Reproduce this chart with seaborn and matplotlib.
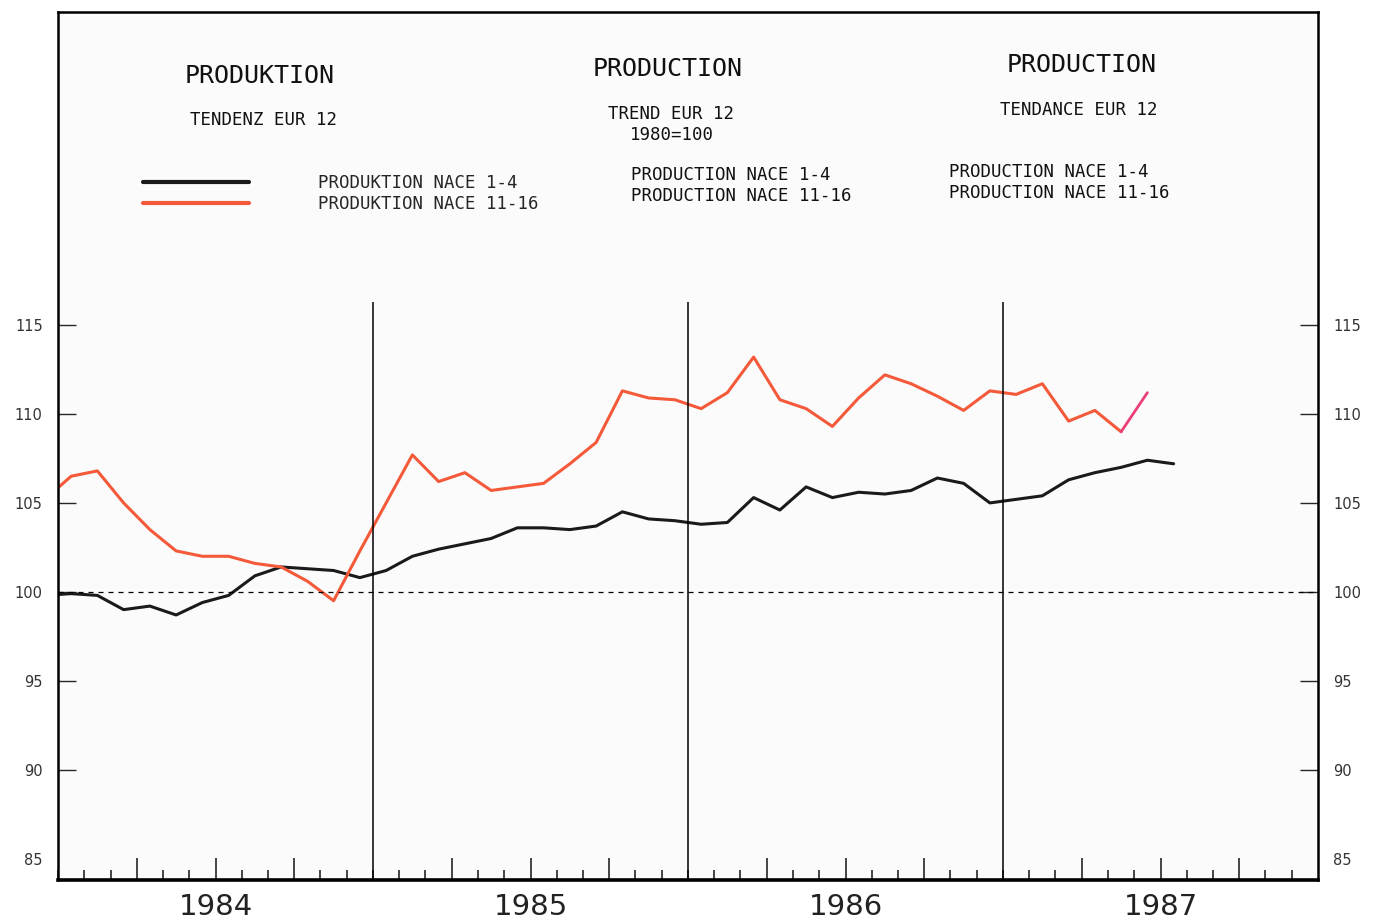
import numpy as np
import pandas as pd
import matplotlib.pyplot as plt
import matplotlib.transforms as mtransforms
import seaborn as sns

# monthly values, Dec 1983 .. Jul 1987 (index 1980 = 100)
months_black = pd.period_range("1983-12", "1987-07", freq="M")
nace_1_4 = [99.8,
            99.9, 99.8, 99.0, 99.2, 98.7, 99.4, 99.8, 100.9, 101.4, 101.3, 101.2, 100.8,
            101.2, 102.0, 102.4, 102.7, 103.0, 103.6, 103.6, 103.5, 103.7, 104.5, 104.1, 104.0,
            103.8, 103.9, 105.3, 104.6, 105.9, 105.3, 105.6, 105.5, 105.7, 106.4, 106.1, 105.0,
            105.2, 105.4, 106.3, 106.7, 107.0, 107.4, 107.2]
months_red = pd.period_range("1983-12", "1987-06", freq="M")
nace_11_16 = [105.2,
              106.5, 106.8, 105.0, 103.5, 102.3, 102.0, 102.0, 101.6, 101.4, 100.6, 99.5, 102.3,
              105.0, 107.7, 106.2, 106.7, 105.7, 105.9, 106.1, 107.2, 108.4, 111.3, 110.9, 110.8,
              110.3, 111.2, 113.2, 110.8, 110.3, 109.3, 110.9, 112.2, 111.7, 111.0, 110.2, 111.3,
              111.1, 111.7, 109.6, 110.2, 109.0, 111.2]
years = [1984, 1985, 1986, 1987]
yticks = [85, 90, 95, 100, 105, 110, 115]
label_black = "PRODUKTION NACE 1-4"
label_red = "PRODUKTION NACE 11-16"


def to_dec(periods):
    return periods.year + (periods.month - 0.5) / 12


df = pd.concat([
    pd.DataFrame({"t": to_dec(months_black), "v": nace_1_4, "serie": label_black}),
    pd.DataFrame({"t": to_dec(months_red[:-1]), "v": nace_11_16[:-1], "serie": label_red}),
])
df_last = pd.DataFrame({"t": to_dec(months_red[-2:]), "v": nace_11_16[-2:]})

sns.set_style("white")
plt.rcParams["font.family"] = ["DejaVu Sans"]

W, H = 1381, 923
fig = plt.figure(figsize=(W / 100, H / 100), dpi=100)
fig.patch.set_facecolor("white")
ax = fig.add_axes([58 / W, 1 - 880 / H, (1318 - 58) / W, (880 - 12) / H])
ax.set_facecolor("#fbfbfb")

red = "#f45a3a"
sns.lineplot(data=df, x="t", y="v", hue="serie",
             palette={label_black: "#1a1a1a", label_red: red},
             linewidth=2.2, ax=ax)
sns.lineplot(data=df_last, x="t", y="v", color="#ec3f78", linewidth=2.0, ax=ax, legend=False)

ax.set_xlim(1984, 1988)
ax.set_ylim(83.8, 132.6)
ax.set_xlabel("")
ax.set_ylabel("")

# reference line and year separators
ax.axhline(100, color="black", lw=0.9, ls=(0, (4, 4)))
ax.vlines(years[1:], 83.8, 116.3, color="black", lw=1.1)

for s in ax.spines.values():
    s.set_color("black")
    s.set_linewidth(1.8)
ax.spines["bottom"].set_linewidth(2.6)

# ticks
ax.set_yticks(yticks)
ax.set_yticklabels([str(v) for v in yticks])
ax.tick_params(axis="y", direction="in", length=13, width=1.0, left=True, right=True,
               labelleft=True, labelright=True, labelsize=10.5, labelcolor="#333333")
ax.tick_params(axis="y", which="major", pad=11)
ax.yaxis.get_major_ticks()[0].tick1line.set_visible(False)
ax.yaxis.get_major_ticks()[0].tick2line.set_visible(False)

month_ticks = np.arange(1984, 1988, 1 / 12)
quarter_ticks = [y + q / 4 for y in years for q in (1, 2, 3)]
ax.set_xticks(quarter_ticks)
ax.set_xticks(month_ticks, minor=True)
ax.tick_params(axis="x", which="major", direction="in", length=16, width=1.2,
               labelbottom=False, bottom=True, top=False)
ax.tick_params(axis="x", which="minor", direction="in", length=7, width=1.2,
               bottom=True, top=False)

xtrans = mtransforms.blended_transform_factory(ax.transData, ax.transAxes)
for y in years:
    ax.text(y + 0.5, -0.031, str(y), transform=xtrans, ha="center", va="center",
            fontsize=21, color="#222222")

# legend (line samples of the German block)
ax.legend(loc="upper left", bbox_to_anchor=(143 / W, 1 - 174 / H),
          bbox_transform=fig.transFigure, frameon=False, borderpad=0,
          borderaxespad=0, handlelength=6.1, handletextpad=4.0, labelspacing=0.2,
          prop={"family": "DejaVu Sans Mono", "size": 12.5})
for line in ax.get_legend().get_lines():
    line.set_linewidth(3)


def put(x, y, s, size, ha="left"):
    fig.text(x / W, 1 - y / H, s, ha=ha, va="center", fontsize=size,
             family="DejaVu Sans Mono", color="#111111")


put(260, 76, "PRODUKTION", 18, "center")
put(190, 120, "TENDENZ EUR 12", 12.5)

put(668, 69, "PRODUCTION", 18, "center")
put(608, 114, "TREND EUR 12", 12.5)
put(630, 135, "1980=100", 12.5)
put(631, 175, "PRODUCTION NACE 1-4", 12.5)
put(631, 196, "PRODUCTION NACE 11-16", 12.5)

put(1082, 65, "PRODUCTION", 18, "center")
put(1000, 110, "TENDANCE EUR 12", 12.5)
put(949, 172, "PRODUCTION NACE 1-4", 12.5)
put(949, 193, "PRODUCTION NACE 11-16", 12.5)

fig.savefig("out.png", dpi=100)
